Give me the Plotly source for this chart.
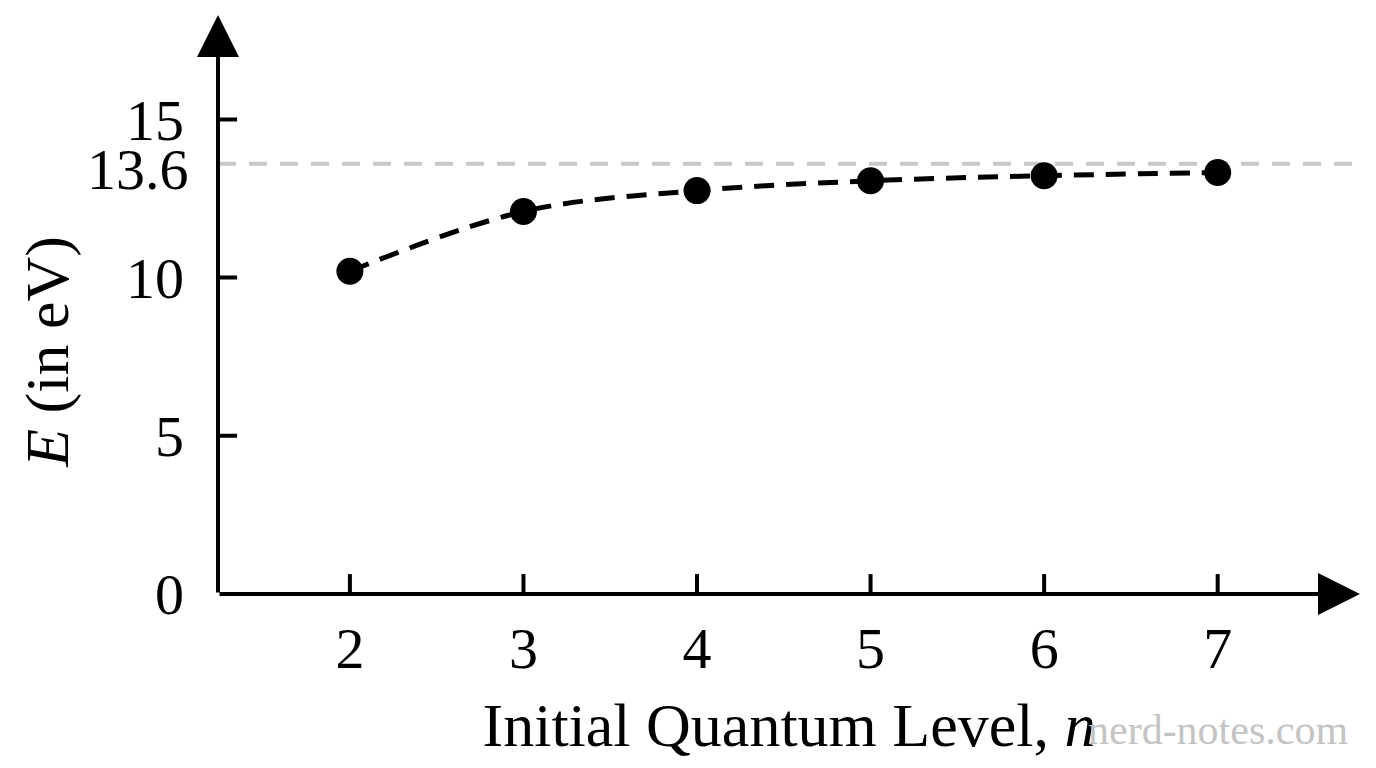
import plotly.graph_objects as go

# energy released dropping to ground state
n_level = [2, 3, 4, 5, 6, 7]
energy_ev = [10.2, 12.09, 12.75, 13.06, 13.22, 13.32]

x_ticks = [2, 3, 4, 5, 6, 7]
y_ticks = [0, 5, 10, 15]
ionization = 13.6

X_MIN, X_MAX = 1.24, 7.82
Y_MIN, Y_MAX = 0, 18.3

font_name = "Liberation Serif"
txt = dict(family=font_name, size=58, color="black")
big = dict(family=font_name, size=62, color="black")

fig = go.Figure()

# smooth dashed curve through the points
fig.add_trace(go.Scatter(
	x=n_level, y=energy_ev, mode="lines",
	line=dict(color="black", width=5, dash="20px,12px", shape="spline"),
	hoverinfo="skip", showlegend=False))
fig.add_trace(go.Scatter(
	x=n_level, y=energy_ev, mode="markers",
	marker=dict(color="black", size=27),
	showlegend=False))

# ionization limit
fig.add_shape(type="line", xref="x", yref="y",
	x0=X_MIN, x1=X_MAX, y0=ionization, y1=ionization,
	line=dict(color="#c8c8c8", width=4, dash="18px,13px"), layer="below")
fig.add_annotation(x=X_MIN, y=ionization, xref="x", yref="y", text="13.6",
	showarrow=False, xanchor="right", yanchor="middle", xshift=-27, yshift=-6,
	font=txt)

# axes with arrows
fig.add_annotation(x=X_MAX, y=0, ax=X_MIN, ay=0, xref="x", yref="y",
	axref="x", ayref="y", showarrow=True, arrowhead=2, arrowsize=2.1,
	arrowwidth=4, arrowcolor="black", text="")
fig.add_annotation(x=X_MIN, y=Y_MAX, ax=X_MIN, ay=0, xref="x", yref="y",
	axref="x", ayref="y", showarrow=True, arrowhead=2, arrowsize=2.1,
	arrowwidth=4, arrowcolor="black", text="")

# tick marks crossing the axes
for t in x_ticks:
	fig.add_shape(type="line", xref="x", yref="y", x0=t, x1=t, y0=-0.63, y1=0.63,
		line=dict(color="black", width=4))
for t in y_ticks[1:]:
	fig.add_shape(type="line", xref="x", yref="y", x0=X_MIN - 0.11, x1=X_MIN + 0.11,
		y0=t, y1=t, line=dict(color="black", width=4))

# y title
fig.add_annotation(text="<i>E</i> (in eV)", xref="paper", yref="paper",
	x=-0.149, y=0.418, textangle=-90, showarrow=False,
	xanchor="center", yanchor="middle", font=big)

# watermark
fig.add_annotation(text="nerd-notes.com", xref="paper", yref="paper",
	x=0.991, y=-0.235, xanchor="right", yanchor="middle", showarrow=False,
	font=dict(family=font_name, size=42, color="#c4c4c4"))

fig.update_xaxes(range=[X_MIN, X_MAX], showgrid=False, zeroline=False,
	showline=False, tickvals=x_ticks, ticktext=[str(t) for t in x_ticks],
	ticks="", ticklabelstandoff=15, automargin=False, tickfont=txt,
	title=dict(text="Initial Quantum Level, <i>n</i>", standoff=22, font=big))
fig.update_yaxes(range=[Y_MIN, Y_MAX], showgrid=False, zeroline=False,
	showline=False, tickvals=y_ticks, ticktext=[str(t) for t in y_ticks],
	ticks="", ticklabelstandoff=33, automargin=False, tickfont=txt)

# page body adds 8px around the plot div
fig.update_layout(
	width=1368, height=760,
	margin=dict(l=210, r=16, t=7, b=174),
	plot_bgcolor="white", paper_bgcolor="white",
	showlegend=False)

fig.write_html("out.html")
